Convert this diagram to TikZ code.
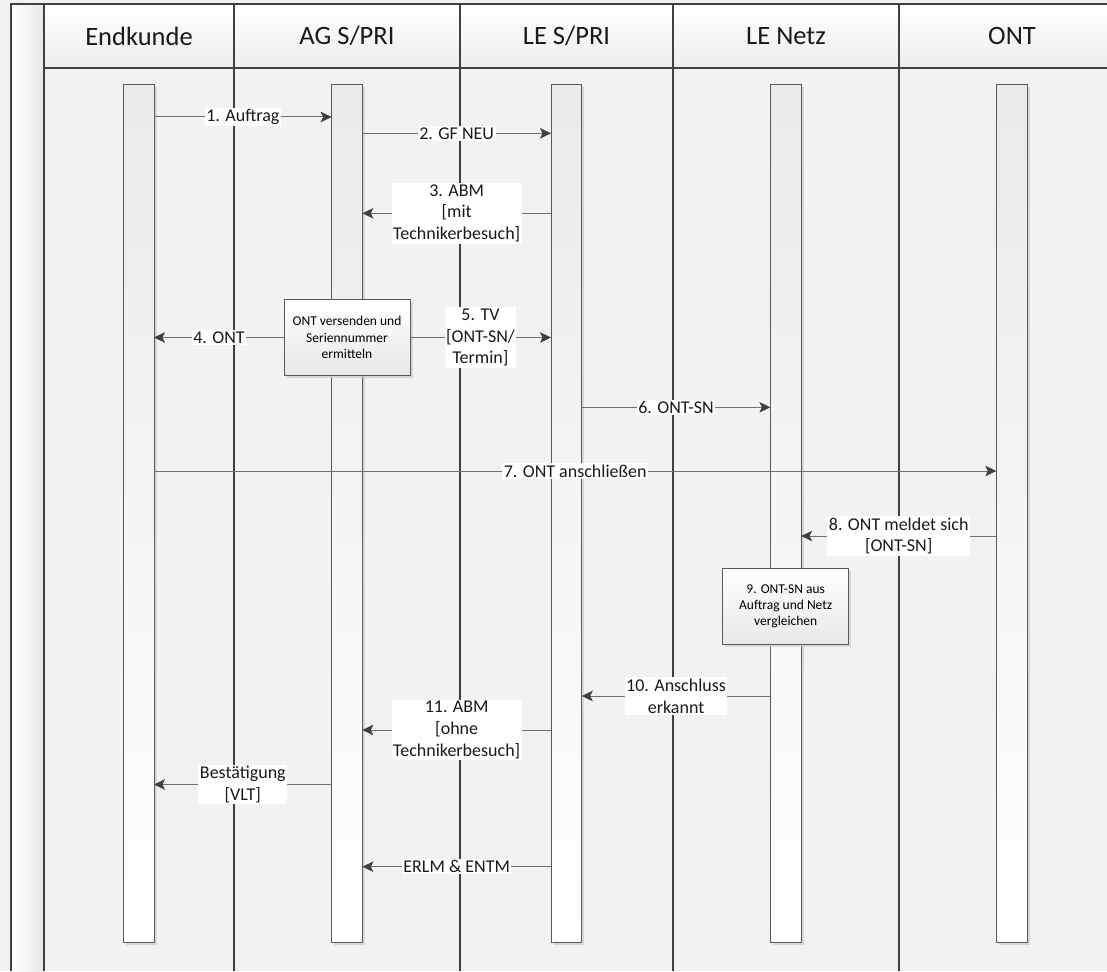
\documentclass[tikz,border=0pt]{standalone}
\usepackage{fontspec}
\setmainfont{Carlito}
\usetikzlibrary{arrows.meta,shadows}
\definecolor{bgc}{HTML}{F2F2F2}
\definecolor{framec}{HTML}{404040}
\definecolor{linec}{HTML}{707070}
\definecolor{tipc}{HTML}{404040}
\definecolor{barline}{HTML}{595959}
\begin{document}
\begin{tikzpicture}[x=1pt,y=-1pt,
  frameline/.style={draw=framec, line width=1.8pt},
  hdrtext/.style={font=\fontsize{26.5}{30}\selectfont, text=black!90},
  bar/.style={draw=barline, line width=0.9pt, top color=black!8, bottom color=white,
    minimum width=30.7, minimum height=857.5, inner sep=0pt, outer sep=0pt,
    drop shadow={shadow xshift=2.5pt, shadow yshift=-2.5pt, fill=black!20, opacity=0.7}},
  actbox/.style={draw=barline, line width=0.9pt, top color=white, bottom color=black!9,
    minimum width=126, minimum height=75.7, inner sep=0pt, outer sep=0pt, align=center,
    font=\fontsize{13.5}{16.3}\selectfont,
    drop shadow={shadow xshift=2.5pt, shadow yshift=-2.5pt, fill=black!20, opacity=0.7}},
  msg/.style={draw=linec, line width=1pt, -{Stealth[length=11pt,width=10.5pt,inset=2.5pt,color=tipc]}},
  lbl/.style={fill=white, inner sep=1.5pt, align=center, font=\fontsize{18}{21.7}\selectfont, text=black!90}
]
\useasboundingbox (0,0) rectangle (1107,971);
\fill[bgc] (0,0) rectangle (1107,971);
% left strip
\shade[left color=white, right color=black!9] (11,4) rectangle (44,971);
% header
\shade[top color=white, bottom color=black!7] (44,4) rectangle (1107,68.3);

% header texts
\node[hdrtext] (hE) at (139,36) {Endkunde};
\node[hdrtext] (hAG) at (347,36) {AG S/PRI};
\node[hdrtext] (hLE) at (566.5,36) {LE S/PRI};
\node[hdrtext] (hN) at (786,36) {LE Netz};
\node[hdrtext] (hO) at (1012,36) {ONT};

% frame lines
\draw[frameline] (11,971) -- (11,4) -- (1107,4);
\draw[frameline] (44,68.3) -- (1107,68.3);
\foreach \xx in {44,234,460,673,899} \draw[frameline] (\xx,4) -- (\xx,971);

% activation bars
\node[bar] (bE) at (138.65,513.25) {};
\node[bar] (bAG) at (347,513.25) {};
\node[bar] (bLE) at (566.35,513.25) {};
\node[bar] (bN) at (785.75,513.25) {};
\node[bar] (bO) at (1011.65,513.25) {};

% activity boxes
\node[actbox] (box4) at (347,337.5) {ONT versenden und\\Seriennummer\\ermitteln};
\node[actbox] (box9) at (785.7,606.2) {9. ONT-SN aus\\Auftrag und Netz\\vergleichen};

% messages
\draw[msg] (bE.east |- 0,117) -- node[lbl] {1. Auftrag} (bAG.west |- 0,117);
\draw[msg] (bAG.east |- 0,133.3) -- node[lbl] {2. GF NEU} (bLE.west |- 0,133.3);
\draw[msg] (bLE.west |- 0,213.3) -- node[lbl] {3. ABM\\{[mit}\\Technikerbesuch]} (bAG.east |- 0,213.3);
\draw[msg] (box4.west) -- node[lbl] {4. ONT} (bE.east |- box4.west);
\draw[msg] (box4.east) -- node[lbl] {5. TV\\{[ONT-SN/}\\Termin]} (bLE.west |- box4.east);
\draw[msg] (bLE.east |- 0,407.3) -- node[lbl] {6. ONT-SN} (bN.west |- 0,407.3);
\draw[msg] (bE.east |- 0,471) -- node[lbl] {7. ONT anschließen} (bO.west |- 0,471);
\draw[msg] (bO.west |- 0,536) -- node[lbl] {8. ONT meldet sich\\{[ONT-SN]}} (bN.east |- 0,536);
\draw[msg] (bN.west |- 0,696) -- node[lbl] {10. Anschluss\\erkannt} (bLE.east |- 0,696);
\draw[msg] (bLE.west |- 0,730) -- node[lbl] {11. ABM\\{[ohne}\\Technikerbesuch]} (bAG.east |- 0,730);
\draw[msg] (bAG.west |- 0,784.5) -- node[lbl] {Bestätigung\\{[VLT]}} (bE.east |- 0,784.5);
\draw[msg] (bLE.west |- 0,866.7) -- node[lbl] {ERLM \& ENTM} (bAG.east |- 0,866.7);
\end{tikzpicture}
\end{document}
